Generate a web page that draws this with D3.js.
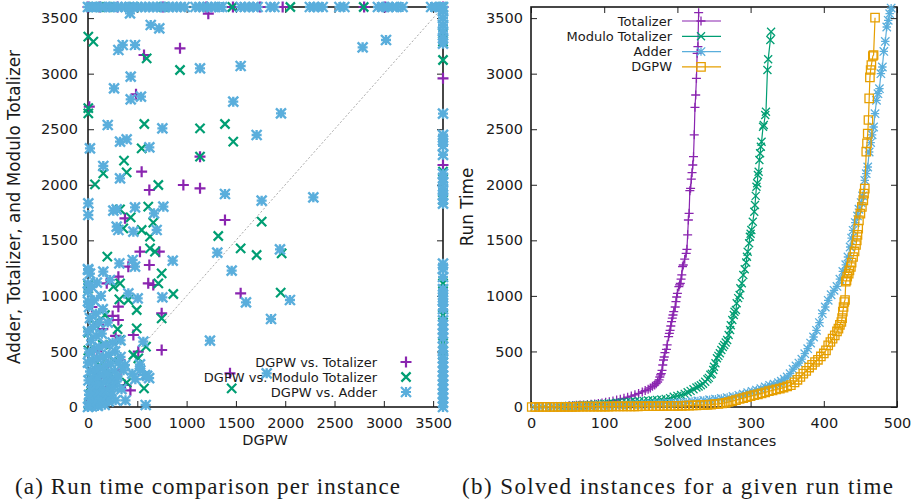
<!DOCTYPE html>
<html>
<head>
<meta charset="utf-8">
<script src="https://cdn.jsdelivr.net/npm/d3@7"></script>
<style>
body { margin: 0; background: #fff; }
svg text { font-family: "DejaVu Sans", sans-serif; fill: #1a1a1a; }
.caption { font-family: "Liberation Serif", serif; }
</style>
</head>
<body>
<div id="chart"></div>
<script>
var svgWidth = 920;
var svgHeight = 504;

// series names and colours (gnuplot defaults)
var solverNames = ["Totalizer", "Modulo Totalizer", "Adder", "DGPW"];
var scatterNames = ["DGPW vs. Totalizer", "DGPW vs. Modulo Totalizer", "DGPW vs. Adder"];
var colors = ["#8a25b0", "#009e73", "#5aaedc", "#e69f00"];

var xTicksL = [0, 500, 1000, 1500, 2000, 2500, 3000, 3500];
var yTicks = [0, 500, 1000, 1500, 2000, 2500, 3000, 3500];
var xTicksR = [0, 100, 200, 300, 400, 500];

// (a) scatter: [DGPW time, other time], 3600 = timeout
var totPairs = [[1220,3540],[933,3228],[568,3168],[13,2703],[487,2814],[544,2118],[622,1953],[967,1998],[1136,1968],[1136,2253],
  [375,1698],[1389,1683],[527,1398],[622,1278],[723,1398],[611,1113],[662,1098],[409,1263],[308,1173],[190,1113],[1548,1023],
  [308,903],[747,843],[308,783],[460,648],[747,513],[325,423],[510,498],[561,288],[1440,303],[375,198],
  [60,120],[120,260],[30,60],[200,380],[90,500],[150,700],[250,820],[40,900],[280,640],[100,300],[15,30],[220,180],[330,330],[430,150],
  [3600,2958],[3600,2178],
  [0,3600],[120,3600],[300,3600],[760,3600],[1200,3600],[1470,3600],[1744,3600],[1974,3600],[2800,3600],[3012,3600],[3600,3600]];

var modPairs = [[3,3333],[54,3288],[595,3138],[933,3033],[3,2643],[3,2690],[571,2547],[1136,2508],[1389,2547],[1473,2388],
  [544,2328],[1136,2253],[365,2217],[392,2112],[155,2103],[71,2004],[713,1998],[611,1803],[325,1779],[433,1707],[358,1608],
  [544,1593],[662,1659],[629,1533],[1321,1539],[1761,1668],[629,1428],[679,1398],[1548,1428],[1710,1368],[1964,1383],
  [196,1353],[747,1203],[325,1113],[713,1113],[865,1017],[1954,1029],[3,1098],[3,1068],[257,1083],[318,969],[409,963],
  [494,873],[747,798],[494,708],[3,669],[325,603],[172,828],[588,543],[460,468],[510,438],[3,510],[568,168],[392,219],[1457,168],
  [40,250],[110,150],[200,60],[260,420],[60,750],[150,560],[30,120],[230,300],[300,700],[120,380],[10,20],[80,40],
  [3600,3363],[3600,3288],[3600,3123],[3600,2118],[3600,1863],[3600,1113],[3600,828],[3600,573],[3600,468],
  [51,3600],[71,3600],[190,3600],[203,3600],[467,3600],[764,3600],[1464,3600],[2052,3600],[2796,3600],[3600,3600]];

var addPairs = [[426,3543],[636,3438],[723,3408],[308,3213],[352,3258],[477,3258],[1136,3048],[1548,3069],[2785,3237],[3022,3303],
  [433,2973],[264,2868],[433,2769],[537,2793],[1473,2748],[1957,2643],[200,2538],[754,2508],[1710,2448],[325,2388],[392,2409],
  [622,2337],[20,2328],[155,2169],[325,2058],[1389,1917],[2285,1887],[1761,1857],[3,1833],[477,1797],[764,1803],[257,1767],
  [291,1779],[669,1743],[3,1728],[291,1623],[308,1593],[460,1578],[696,1593],[1311,1389],[1947,1419],[859,1317],[318,1293],
  [477,1263],[3,1233],[155,1218],[1457,1227],[453,1323],[223,1143],[409,1023],[504,978],[754,987],[1602,942],[2048,963],
  [1856,792],[1237,597],[561,588],[375,378],[527,384],[585,18],[578,288],[1812,303],[0,950],[0,1110],
  [0,0],[15,15],[40,5],[70,25],[100,10],[130,35],[170,20],[210,50],[20,45],[50,70],[90,60],[140,80],[190,95],[240,110],
  [10,110],[60,130],[110,140],[160,150],[215,170],[260,180],[30,180],[80,200],[130,210],[185,230],[240,250],[290,230],
  [5,240],[50,260],[100,270],[150,290],[200,300],[270,320],[20,320],[70,340],[120,350],[175,370],[230,390],[310,400],
  [0,400],[45,420],[95,440],[150,450],[210,470],[275,500],[10,490],[60,520],[115,540],[180,560],[250,580],[330,600],
  [30,600],[85,640],[140,660],[0,680],[50,720],[110,760],[200,760],[20,800],[80,840],[150,880],[10,900],[60,960],
  [130,1000],[0,1040],[40,1080],[90,1120],[20,1200],[0,1240],[330,450],[360,330],[300,280],[340,160],[280,60],[380,60],
  [450,300],[530,330],[600,280],[480,250],[620,260],
  [0,3600],[30,3600],[60,3600],[90,3600],[130,3600],[170,3600],[230,3600],[260,3600],[300,3600],[340,3600],[380,3600],[420,3600],
  [450,3600],[500,3600],[540,3600],[580,3600],[620,3600],[660,3600],[700,3600],[740,3600],[780,3600],[820,3600],[860,3600],
  [900,3600],[940,3600],[980,3600],[1090,3600],[1130,3600],[1170,3600],[1210,3600],[1250,3600],[1290,3600],[1330,3600],
  [1360,3600],[1550,3600],[1590,3600],[1630,3600],[1680,3600],[1720,3600],[1850,3600],[1890,3600],[2250,3600],[2290,3600],
  [2330,3600],[2380,3600],[2550,3600],[2600,3600],[2940,3600],[2990,3600],[3040,3600],[3090,3600],[3130,3600],[3190,3600],
  [3480,3600],[3530,3600],[3580,3600],
  [3600,3600],[3600,3560],[3600,3500],[3600,3440],[3600,3380],[3600,3320],[3600,3270],[3600,2640],[3600,2450],[3600,2400],
  [3600,2350],[3600,2270],[3600,2100],[3600,2060],[3600,2020],[3600,1960],[3600,1910],[3600,1870],[3600,1830],[3600,1290],
  [3600,1240],[3600,1170],[3600,1060],[3600,1010],[3600,960],[3600,910],[3600,880],[3600,780],[3600,740],[3600,700],
  [3600,660],[3600,620],[3600,540],[3600,500],[3600,440],[3600,400],[3600,360],[3600,320],[3600,280],[3600,240],[3600,200],
  [3600,160],[3600,120],[3600,80],[3600,40],[3600,0]];

// (b) cactus: [solved instances, run time]
var totCactus = [[52,12],[57,13],[62,15],[67,17],[72,19],[77,21],[82,24],[87,28],[92,32],[97,36],[102,42],[107,48],[112,54],
  [117,62],[122,70],[127,78],[132,88],[137,98],[142,110],[147,122],[152,136],[156,148],[160,160],[163,172],[166,186],[169,198],
  [171,210],[173,225],[175,245],[176,270],[177,290],[178,300],[179,330],[180,378],[181,423],[182,450],[183,489],[185,519],
  [186,560],[188,633],[189,663],[190,690],[191,729],[192,768],[193,800],[194,828],[195,858],[197,900],[198,948],[199,990],
  [200,1023],[202,1083],[203,1100],[204,1113],[205,1150],[206,1190],[207,1263],[208,1278],[210,1330],[212,1383],[213,1419],
  [214,1550],[215,1683],[216,1743],[217,1947],[218,1968],[219,2050],[220,2109],[221,2178],[222,2253],[223,2450],[224,2697],
  [225,2808],[226,2958],[227,3183],[228,3243],[229,3549]];

var modCactus = [[40,6],[46,8],[52,10],[58,12],[64,14],[70,16],[76,18],[82,20],[88,23],[94,26],[100,29],[106,32],[112,35],
  [118,38],[124,41],[130,44],[136,47],[142,50],[148,52],[154,55],[160,58],[166,61],[172,64],[178,68],[184,73],[190,80],
  [195,92],[200,100],[205,108],[210,118],[214,132],[218,145],[222,160],[226,175],[229,185],[232,195],[235,210],[238,228],
  [241,250],[243,262],[245,290],[247,300],[249,333],[250,363],[252,393],[254,438],[256,460],[258,483],[260,513],[262,540],
  [264,558],[266,580],[268,603],[270,648],[272,693],[273,735],[275,783],[277,828],[278,858],[280,873],[281,933],[283,980],
  [285,1008],[286,1068],[288,1113],[290,1188],[292,1240],[294,1300],[295,1353],[296,1398],[298,1473],[299,1533],[300,1560],
  [301,1593],[303,1668],[305,1758],[306,1818],[307,1900],[308,1983],[309,2013],[310,2088],[311,2118],[312,2223],[313,2283],
  [314,2343],[315,2388],[317,2523],[318,2538],[320,2628],[321,2658],[323,3033],[324,3129],[327,3303],[328,3378]];

var addCactus = [[5,1],[12,2],[20,3],[28,4],[36,5],[44,6],[52,7],[60,8],[68,9],[76,10],[84,11],[92,12],[100,13],[108,14],
  [116,15],[124,17],[132,19],[140,21],[148,23],[156,25],[164,27],[172,29],[180,31],[188,34],[196,37],[204,40],[212,44],
  [220,50],[228,55],[236,60],[244,65],[252,71],[260,77],[268,85],[276,95],[284,105],[290,115],[296,128],[302,140],[308,152],
  [314,165],[320,180],[326,195],[332,205],[338,218],[342,232],[346,250],[350,270],[354,300],[358,340],[362,370],[366,395],
  [370,430],[374,480],[378,525],[382,575],[386,630],[390,690],[394,760],[398,840],[402,900],[406,960],[410,1010],[414,1050],
  [418,1085],[422,1150],[426,1220],[430,1280],[433,1350],[436,1440],[438,1520],[440,1590],[443,1660],[446,1720],[448,1780],
  [451,1840],[453,1900],[456,2040],[458,2100],[460,2160],[462,2295],[464,2380],[466,2450],[468,2520],[470,2640],[472,2760],
  [474,2820],[476,2865],[478,3000],[480,3060],[482,3200],[484,3290],[486,3420],[488,3480],[490,3540],[492,3590]];

var dgpwCactus = [[1,0],[6,0],[11,0],[16,1],[21,1],[26,1],[31,1],[36,1],[41,2],[46,2],[51,2],[56,2],[61,2],[66,3],[71,3],
  [76,3],[81,3],[86,3],[91,4],[96,4],[101,4],[106,4],[111,5],[116,5],[121,5],[126,5],[131,6],[136,6],[141,6],[146,6],[151,7],
  [156,7],[161,7],[166,8],[171,8],[176,8],[181,9],[186,9],[191,10],[196,10],[201,11],[206,11],[211,12],[216,13],[221,14],
  [226,15],[231,17],[236,18],[241,20],[246,22],[251,25],[256,28],[261,32],[266,38],[270,45],[275,52],[280,62],[285,72],
  [290,80],[295,88],[300,98],[305,106],[310,114],[315,122],[320,132],[325,142],[330,150],[335,158],[340,166],[345,175],
  [350,185],[355,197],[360,222],[364,245],[368,270],[372,300],[376,325],[380,355],[384,380],[388,405],[392,425],[396,455],
  [400,482],[403,510],[406,555],[409,585],[412,615],[415,645],[418,680],[420,705],[422,740],[424,765],[425,800],[426,858],
  [427,900],[428,945],[429,963],[430,1128],[431,1140],[432,1173],[434,1200],[435,1230],[437,1260],[438,1300],[440,1350],
  [442,1400],[444,1458],[445,1500],[446,1550],[447,1605],[448,1680],[450,1740],[452,1800],[454,1860],[455,1920],[456,1965],
  [458,2298],[459,2373],[460,2460],[461,2583],[462,2778],[463,2967],[464,3033],[465,3078],[467,3159],[468,3168],[470,3504]];

var pointTypes = ["plus", "cross", "star", "square"];

main();

function markerPath(type, s) {
    var p = "M" + (-s) + ",0H" + s + "M0," + (-s) + "V" + s;
    var c = "M" + (-s) + "," + (-s) + "L" + s + "," + s + "M" + (-s) + "," + s + "L" + s + "," + (-s);
    if (type == "plus") return p;
    if (type == "cross") return c;
    if (type == "star") return p + c;
    return "M" + (-s) + "," + (-s) + "H" + s + "V" + s + "H" + (-s) + "Z";
}

function frameAxes(svg, x, y, xt, yt, ypad) {
    var w = x.range()[1] - x.range()[0];
    var h = y.range()[0] - y.range()[1];
    var fmt = d3.format("d");
    svg.append("g").attr("transform", "translate(0," + y.range()[0] + ")")
        .call(d3.axisBottom(x).tickValues(xt).tickSize(-6).tickPadding(11).tickFormat(fmt));
    svg.append("g").attr("transform", "translate(" + x.range()[0] + ",0)")
        .call(d3.axisLeft(y).tickValues(yt).tickSize(-6).tickPadding(ypad).tickFormat(fmt));
    svg.append("g").attr("transform", "translate(0," + y.range()[1] + ")")
        .call(d3.axisTop(x).tickValues(xt).tickSize(-6).tickFormat(""));
    svg.append("g").attr("transform", "translate(" + x.range()[1] + ",0)")
        .call(d3.axisRight(y).tickValues(yt).tickSize(-6).tickFormat(""));
    svg.selectAll(".domain").remove();
    svg.selectAll(".tick line").attr("stroke", "#222").attr("stroke-width", 1);
    svg.selectAll(".tick text").style("font-size", "14.5px").attr("fill", "#1a1a1a");
    svg.append("rect")
        .attr("x", x.range()[0]).attr("y", y.range()[1])
        .attr("width", w).attr("height", h)
        .attr("fill", "none").attr("stroke", "#1a1a1a").attr("stroke-width", 1.6);
}

function main() {
    var svg = d3.select("#chart").append("svg")
        .attr("width", svgWidth)
        .attr("height", svgHeight);

    // ---------- (a) scatter ----------
    var xL = d3.scaleLinear().domain([0, 3600]).range([88, 443]);
    var yL = d3.scaleLinear().domain([0, 3600]).range([407, 7]);
    var ga = svg.append("g");

    ga.append("line")
        .attr("x1", xL(0)).attr("y1", yL(0)).attr("x2", xL(3600)).attr("y2", yL(3600))
        .attr("stroke", "#aaa").attr("stroke-width", 1).attr("stroke-dasharray", "2,2");

    frameAxes(ga, xL, yL, xTicksL, yTicks, 10);

    var scatterSets = [totPairs, modPairs, addPairs];
    var sizes = [5.5, 4.6, 5];
    scatterSets.forEach(function (set, i) {
        ga.append("g").selectAll("path")
            .data(set).enter().append("path")
            .attr("transform", d => "translate(" + xL(d[0]) + "," + yL(d[1]) + ")")
            .attr("d", markerPath(pointTypes[i], sizes[i]))
            .attr("fill", "none")
            .attr("stroke", colors[i])
            .attr("stroke-width", i == 2 ? 2.4 : 2.2);
    });

    var lg = ga.selectAll(".legendA").data(scatterNames).enter().append("g")
        .attr("transform", (d, i) => "translate(0," + (362 + i * 15) + ")");
    lg.append("text").attr("x", 377).attr("dy", "0.35em")
        .style("text-anchor", "end").style("font-size", "13px").text(d => d);
    lg.append("path").attr("transform", "translate(406,0)")
        .attr("d", (d, i) => markerPath(pointTypes[i], sizes[i]))
        .attr("fill", "none").attr("stroke", (d, i) => colors[i]).attr("stroke-width", 2.2);

    ga.append("text").attr("x", 265).attr("y", 440).attr("dy", "0.35em")
        .style("text-anchor", "middle").style("font-size", "14.5px").text("DGPW");
    ga.append("text").attr("transform", "translate(14,207) rotate(-90)").attr("dy", "0.35em")
        .style("text-anchor", "middle").style("font-size", "16.8px")
        .text("Adder, Totalizer, and Modulo Totalizer");

    // ---------- (b) cactus ----------
    var xR = d3.scaleLinear().domain([0, 500]).range([531, 897]);
    var yR = d3.scaleLinear().domain([0, 3600]).range([407, 7]);
    var gb = svg.append("g");
    frameAxes(gb, xR, yR, xTicksR, yTicks, 8);

    var line = d3.line().x(d => xR(d[0])).y(d => yR(d[1]));
    var cactusSets = [totCactus, modCactus, addCactus, dgpwCactus];
    var rsizes = [4.5, 4, 4.2, 4.2];
    cactusSets.forEach(function (set, i) {
        var g = gb.append("g");
        g.append("path").datum(set)
            .attr("d", line).attr("fill", "none")
            .attr("stroke", colors[i]).attr("stroke-width", 1.2);
        g.selectAll(".pt").data(set).enter().append("path")
            .attr("transform", d => "translate(" + xR(d[0]) + "," + yR(d[1]) + ")")
            .attr("d", markerPath(pointTypes[i], rsizes[i]))
            .attr("fill", "none").attr("stroke", colors[i]).attr("stroke-width", 1.3);
    });

    var lr = gb.selectAll(".legendB").data(solverNames).enter().append("g")
        .attr("transform", (d, i) => "translate(0," + (21 + i * 15.3) + ")");
    lr.append("text").attr("x", 672).attr("dy", "0.35em")
        .style("text-anchor", "end").style("font-size", "13px").text(d => d);
    lr.append("line").attr("x1", 682).attr("x2", 721)
        .attr("stroke", (d, i) => colors[i]).attr("stroke-width", 1.2);
    lr.append("path").attr("transform", "translate(701,0)")
        .attr("d", (d, i) => markerPath(pointTypes[i], rsizes[i]))
        .attr("fill", "none").attr("stroke", (d, i) => colors[i]).attr("stroke-width", 1.3);

    gb.append("text").attr("x", 715).attr("y", 441).attr("dy", "0.35em")
        .style("text-anchor", "middle").style("font-size", "14.5px").text("Solved Instances");
    gb.append("text").attr("transform", "translate(467,207) rotate(-90)").attr("dy", "0.35em")
        .style("text-anchor", "middle").style("font-size", "16.8px").text("Run Time");

    // ---------- captions ----------
    svg.append("text").attr("class", "caption").attr("x", 15).attr("y", 494)
        .attr("textLength", 385).attr("lengthAdjust", "spacing")
        .style("font-size", "23px").text("(a) Run time comparison per instance");
    svg.append("text").attr("class", "caption").attr("x", 462).attr("y", 494)
        .attr("textLength", 431).attr("lengthAdjust", "spacing")
        .style("font-size", "23px").text("(b) Solved instances for a given run time");
}
</script>
</body>
</html>
